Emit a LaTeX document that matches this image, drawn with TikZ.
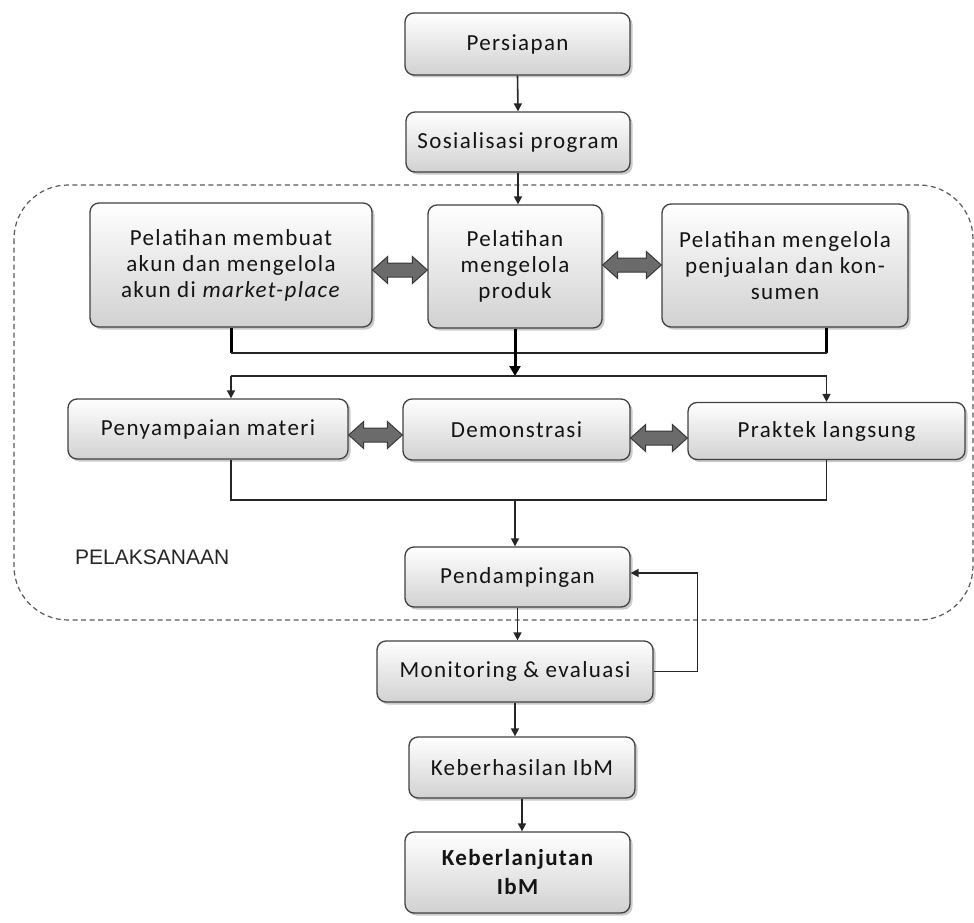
\documentclass[tikz,border=0pt]{standalone}
\usepackage{fontspec}
\setmainfont{Carlito}[LetterSpace=6]
\newfontfamily\lblfont{Liberation Sans}
\usetikzlibrary{shadows,calc,arrows.meta}
\newcommand\dblarr[3]{%
  \draw[dblarrow] let \p1=(#1.east), \p2=(#2.west), \p3=(0,#3) in
    (\x1,\y3) -- ({\x1+15pt},{\y3+13.5pt}) -- ({\x1+15pt},{\y3+7pt})
    -- ({\x2-15pt},{\y3+7pt}) -- ({\x2-15pt},{\y3+13.5pt}) -- (\x2,\y3)
    -- ({\x2-15pt},{\y3-13.5pt}) -- ({\x2-15pt},{\y3-7pt})
    -- ({\x1+15pt},{\y3-7pt}) -- ({\x1+15pt},{\y3-13.5pt}) -- cycle;}
\begin{document}
\begin{tikzpicture}[x=1pt,y=-1pt,
  box/.style={draw=black!75, line width=1.3pt, rounded corners=9pt,
    top color=white, bottom color=black!18,
    drop shadow={shadow xshift=2.5pt, shadow yshift=-2.5pt, opacity=0.35, fill=black!60},
    align=center, inner sep=2pt, font=\fontsize{23}{26}\selectfont, text=black!92},
  conn/.style={draw=black!85, line width=1.6pt},
  arr/.style={conn, -{Triangle[length=8pt,width=8pt]}},
  thickln/.style={draw=black, line width=3pt},
  dblarrow/.style={draw=black!78, line width=1pt, fill=black!58},
  region/.style={draw=black!65, line width=1.2pt, dash pattern=on 5pt off 3.5pt, rounded corners=54pt}
]
\useasboundingbox (0,0) rectangle (974,923);

\draw[region] (14,185) rectangle (973,620);

\node[box, minimum width=225pt, minimum height=62pt] (pers) at (517.5,44) {Persiapan};
\node[box, minimum width=224pt, minimum height=60pt] (sos) at (518,142) {Sosialisasi program};
\node[box, minimum width=282pt, minimum height=124pt] (A) at (231,265) {Pelatihan membuat\\akun dan mengelola\\akun di \textit{market-place}};
\node[box, minimum width=174pt, minimum height=123pt] (B) at (515,266.5) {Pelatihan\\mengelola\\produk};
\node[box, minimum width=246pt, minimum height=123pt] (C) at (785,265.5) {Pelatihan mengelola\\penjualan dan kon-\\sumen};
\node[box, minimum width=280pt, minimum height=60pt] (pm) at (208,429) {Penyampaian materi};
\node[box, minimum width=227pt, minimum height=61pt] (dem) at (516.5,429.5) {Demonstrasi};
\node[box, minimum width=277pt, minimum height=57pt] (prak) at (826.5,431) {Praktek langsung};
\node[box, minimum width=225pt, minimum height=60pt] (pend) at (517.5,577) {Pendampingan};
\node[box, minimum width=276pt, minimum height=61pt] (mon) at (515,671.5) {Monitoring \& evaluasi};
\node[box, minimum width=226pt, minimum height=61pt] (keb) at (522,767.5) {Keberhasilan IbM};
\node[box, minimum width=225pt, minimum height=81pt, font=\fontsize{23}{29}\selectfont\bfseries] (kl) at (517.5,872.5) {Keberlanjutan\\IbM};

\node[anchor=west, inner sep=0pt, font=\lblfont\fontsize{21}{24}\selectfont, text=black!85] (pel) at (75,557) {PELAKSANAAN};

\coordinate (h1) at (515,353);
\coordinate (h2) at (515,376);
\coordinate (h3) at (515,500);

\draw[arr] (pers.south) -- (sos.north);
\draw[arr] (sos.south) -- (sos.south |- B.north);

\dblarr{A}{B}{270}
\dblarr{B}{C}{265}
\dblarr{pm}{dem}{435}
\dblarr{dem}{prak}{438}

\draw[thickln] (A.south) -- (A.south |- h1);
\draw[thickln] (prak.north |- C.south) -- (prak.north |- h1);
\draw[conn] (A.south |- h1) -- (prak.north |- h1);
\draw[thickln, -{Triangle[length=10pt,width=11pt]}] (B.south) -- (B.south |- h2);
\draw[conn] (A.south |- h2) -- (prak.north |- h2);
\draw[arr] (A.south |- h2) -- (A.south |- pm.north);
\draw[arr] (prak.north |- h2) -- (prak.north);
\draw[conn] (A.south |- pm.south) -- (A.south |- h3) -- (prak.south |- h3) -- (prak.south);
\draw[arr] (h3) -- (h3 |- pend.north);

\draw[arr] (pend.south) -- (pend.south |- mon.north);
\draw[arr] (mon.east) -- ++(44,0) |- ($(pend.east)+(0,-4)$);
\draw[arr] (mon.south) -- (mon.south |- keb.north);
\draw[arr] (keb.south) -- (keb.south |- kl.north);
\end{tikzpicture}
\end{document}
